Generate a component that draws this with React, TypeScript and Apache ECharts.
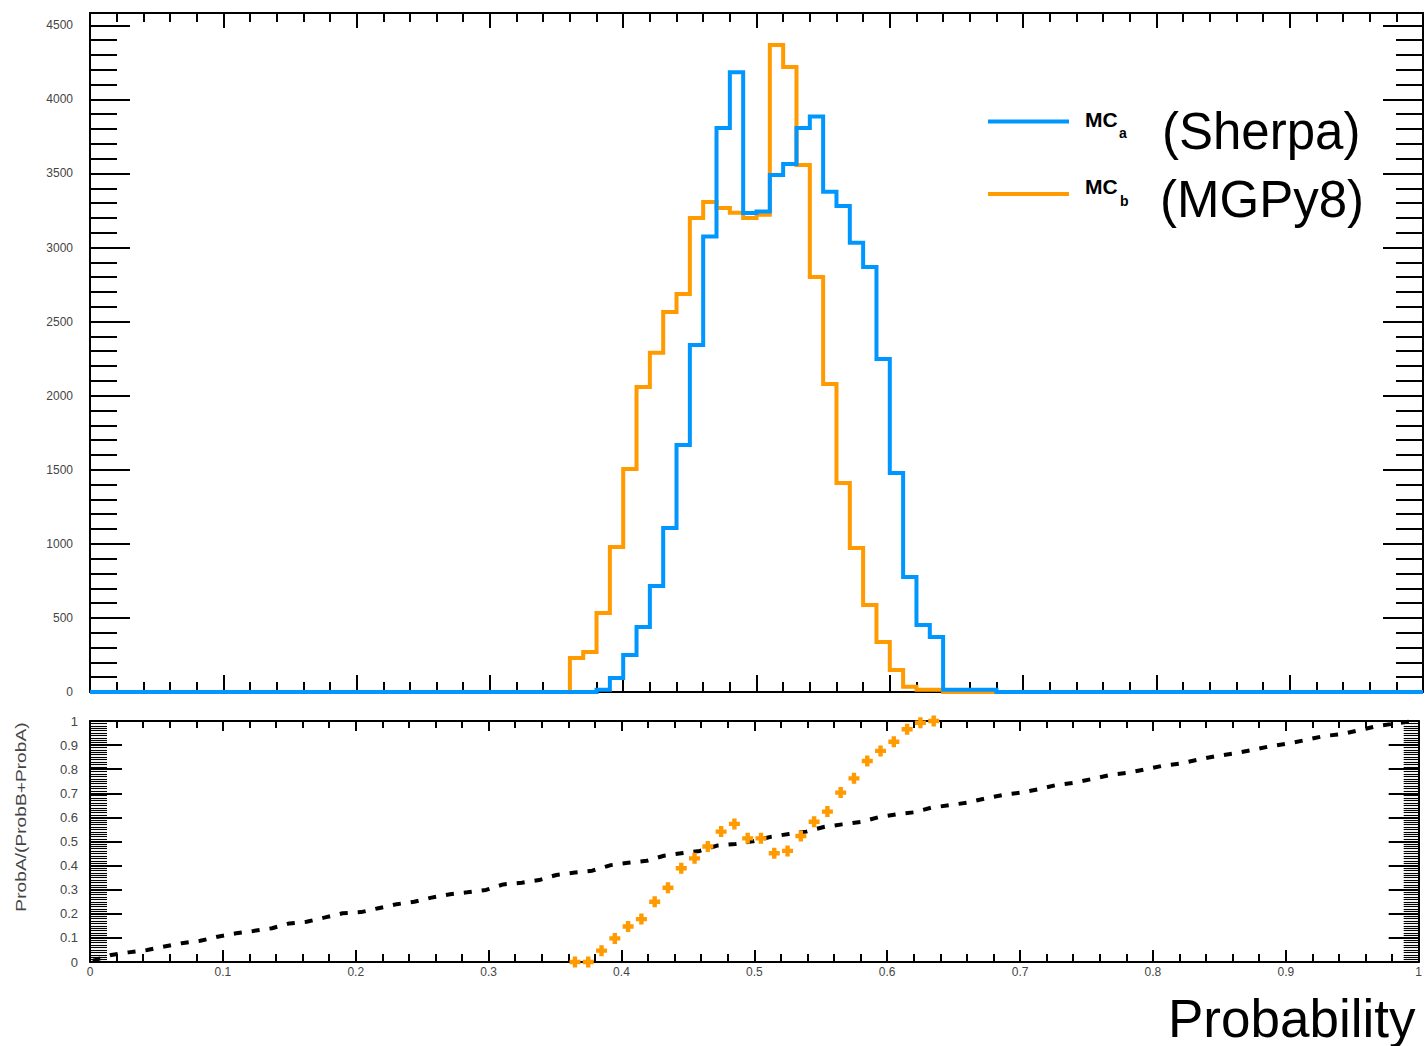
import React, { useEffect, useRef } from "react";
import * as echarts from "echarts";

// ---------------- data ----------------
// histogram: 100 bins of width 0.01 on [0, 1]
const histLow = 0;
const histBinWidth = 0.01;

// MC_a (Sherpa) counts per bin
const mcaCounts = [
  0, 0, 0, 0, 0, 0, 0, 0, 0, 0,
  0, 0, 0, 0, 0, 0, 0, 0, 0, 0,
  0, 0, 0, 0, 0, 0, 0, 0, 0, 0,
  0, 0, 0, 0, 0, 0, 0, 0, 15, 94,
  249, 439, 716, 1107, 1667, 2342, 3074, 3807, 4183, 3233,
  3243, 3490, 3563, 3807, 3885, 3376, 3281, 3033, 2868, 2248,
  1479, 776, 452, 371, 15, 15, 15, 15, 0, 0,
  0, 0, 0, 0, 0, 0, 0, 0, 0, 0,
  0, 0, 0, 0, 0, 0, 0, 0, 0, 0,
  0, 0, 0, 0, 0, 0, 0, 0, 0, 0,
];

// MC_b (MGPy8) counts per bin
const mcbCounts = [
  0, 0, 0, 0, 0, 0, 0, 0, 0, 0,
  0, 0, 0, 0, 0, 0, 0, 0, 0, 0,
  0, 0, 0, 0, 0, 0, 0, 0, 0, 0,
  0, 0, 0, 0, 0, 0, 229, 270, 534, 979,
  1506, 2059, 2289, 2565, 2687, 3199, 3307, 3267, 3234, 3199,
  3221, 4367, 4219, 3557, 2801, 2079, 1411, 972, 587, 337,
  149, 36, 15, 15, 0, 0, 0, 0, 0, 0,
  0, 0, 0, 0, 0, 0, 0, 0, 0, 0,
  0, 0, 0, 0, 0, 0, 0, 0, 0, 0,
  0, 0, 0, 0, 0, 0, 0, 0, 0, 0,
];

// ratio panel: orange points (bin centres) and values
const ratioX = [
  0.365, 0.375, 0.385, 0.395, 0.405, 0.415, 0.425, 0.435, 0.445, 0.455,
  0.465, 0.475, 0.485, 0.495, 0.505, 0.515, 0.525, 0.535, 0.545, 0.555,
  0.565, 0.575, 0.585, 0.595, 0.605, 0.615, 0.625, 0.635,
];
const ratioY = [
  0, 0, 0.047, 0.098, 0.147, 0.178, 0.25, 0.308, 0.389, 0.43,
  0.479, 0.541, 0.573, 0.513, 0.513, 0.451, 0.461, 0.523, 0.582, 0.624,
  0.703, 0.762, 0.834, 0.876, 0.914, 0.966, 0.993, 1.0,
];

// ratio panel: black reference curve
const refX = [
  0.002, 0.016, 0.029, 0.043, 0.056, 0.069, 0.083, 0.096, 0.11, 0.123,
  0.137, 0.15, 0.163, 0.177, 0.19, 0.204, 0.217, 0.231, 0.244, 0.257,
  0.271, 0.284, 0.298, 0.311, 0.325, 0.338, 0.351, 0.365, 0.378, 0.392,
  0.405, 0.419, 0.432, 0.445, 0.459, 0.472, 0.486, 0.499, 0.513, 0.526,
  0.539, 0.553, 0.566, 0.58, 0.593, 0.607, 0.62, 0.633, 0.647, 0.66,
  0.674, 0.687, 0.701, 0.714, 0.727, 0.741, 0.754, 0.768, 0.781, 0.795,
  0.808, 0.821, 0.835, 0.848, 0.862, 0.875, 0.889, 0.902, 0.915, 0.929,
  0.942, 0.956, 0.969, 0.983, 0.996,
];
const refY = [
  0.005, 0.029, 0.04, 0.05, 0.064, 0.078, 0.088, 0.105, 0.119, 0.129,
  0.14, 0.16, 0.167, 0.185, 0.202, 0.207, 0.223, 0.24, 0.25, 0.267,
  0.281, 0.289, 0.299, 0.322, 0.329, 0.34, 0.361, 0.371, 0.379, 0.402,
  0.412, 0.42, 0.441, 0.451, 0.461, 0.483, 0.49, 0.501, 0.52, 0.531,
  0.541, 0.561, 0.571, 0.581, 0.6, 0.613, 0.621, 0.64, 0.651, 0.661,
  0.679, 0.693, 0.703, 0.717, 0.734, 0.744, 0.759, 0.776, 0.785, 0.8,
  0.815, 0.824, 0.841, 0.855, 0.866, 0.88, 0.896, 0.907, 0.921, 0.938,
  0.945, 0.963, 0.979, 0.99, 1.0,
];

// axis ranges / ticks
const xMin = 0;
const xMax = 1;
const xInterval = 0.1;
const topYMax = 4583;
const topYTickMax = 4500;
const topYInterval = 500;
const ratioYMin = 0;
const ratioYMax = 1;
const ratioYInterval = 0.1;

// labels
const seriesNameA = "(Sherpa)";
const seriesNameB = "(MGPy8)";
const xTitle = "Probability";
const ratioTitle = "ProbA/(ProbB+ProbA)";

// ---------------- styles ----------------
const BLUE = "#0096ff";
const ORANGE = "#ff9a00";
const FONT = '"Liberation Sans", Arial, Helvetica, sans-serif';
const LABEL_COLOR = "#444";

const PLOT_LEFT = 90;
const PLOT_WIDTH = 1333;
const TOP_TOP = 13;
const TOP_HEIGHT = 679;
const RATIO_TOP = 721;
const RATIO_HEIGHT = 241;

function histData(counts: number[]) {
  const pts: number[][] = counts.map((c, i) => [histLow + i * histBinWidth, c]);
  pts.push([histLow + counts.length * histBinWidth, counts[counts.length - 1]]);
  return pts;
}

function axis(base: any) {
  const tick = { color: "#000", width: 2 };
  return {
    type: "value",
    axisLine: { show: true, onZero: false, lineStyle: { color: "#000", width: 2 } },
    splitLine: { show: false },
    axisLabel: { show: false },
    ...base,
    axisTick: { show: true, inside: true, lineStyle: tick, ...(base.axisTick || {}) },
    minorTick: { show: true, lineStyle: tick, ...(base.minorTick || {}) },
  };
}

const PLUS = "path://M3,0H7V3H10V7H7V10H3V7H0V3H3Z";
const plainNumber = (v: number) => String(v);

export default function App() {
  const ref = useRef<HTMLDivElement>(null);

  useEffect(() => {
    document.body.style.margin = "0";
    const chart = echarts.init(ref.current!, null, { renderer: "svg" });

    const tickGridHeight = (TOP_HEIGHT * topYTickMax) / topYMax;
    const tickGridTop = TOP_TOP + TOP_HEIGHT - tickGridHeight;

    const xCommon = { min: xMin, max: xMax, interval: xInterval };
    const denseMinor = { color: "#000", width: 1.1 };

    const option: any = {
      animation: false,
      backgroundColor: "#fff",
      grid: [
        { left: PLOT_LEFT, top: TOP_TOP, width: PLOT_WIDTH, height: TOP_HEIGHT },
        { left: PLOT_LEFT, top: RATIO_TOP, width: PLOT_WIDTH, height: RATIO_HEIGHT },
        { left: PLOT_LEFT, top: tickGridTop, width: PLOT_WIDTH, height: tickGridHeight },
      ],
      xAxis: [
        axis({ ...xCommon, gridIndex: 0, position: "bottom", axisTick: { length: 17 }, minorTick: { splitNumber: 5, length: 10 } }),
        axis({ ...xCommon, gridIndex: 0, position: "top", axisTick: { length: 15 }, minorTick: { splitNumber: 5, length: 9 } }),
        axis({
          ...xCommon,
          gridIndex: 1,
          position: "bottom",
          axisTick: { length: 12 },
          minorTick: { splitNumber: 5, length: 8 },
          axisLabel: { show: true, fontSize: 12, color: LABEL_COLOR, fontFamily: FONT, margin: 4 },
        }),
        axis({ ...xCommon, gridIndex: 1, position: "top", axisTick: { length: 10 }, minorTick: { splitNumber: 5, length: 7 } }),
        { type: "value", gridIndex: 2, min: xMin, max: xMax, show: false },
      ],
      yAxis: [
        axis({ gridIndex: 0, position: "left", min: 0, max: topYMax, axisTick: { show: false }, minorTick: { show: false } }),
        axis({ gridIndex: 0, position: "right", min: 0, max: topYMax, axisTick: { show: false }, minorTick: { show: false } }),
        axis({
          gridIndex: 1,
          position: "left",
          min: ratioYMin,
          max: ratioYMax,
          interval: ratioYInterval,
          axisTick: { length: 32 },
          minorTick: { splitNumber: 10, length: 17, lineStyle: denseMinor },
          axisLabel: { show: true, fontSize: 13, color: LABEL_COLOR, fontFamily: FONT, margin: 12 },
        }),
        axis({
          gridIndex: 1,
          position: "right",
          min: ratioYMin,
          max: ratioYMax,
          interval: ratioYInterval,
          axisTick: { length: 30 },
          minorTick: { splitNumber: 10, length: 15, lineStyle: denseMinor },
        }),
        axis({
          gridIndex: 2,
          position: "left",
          min: 0,
          max: topYTickMax,
          interval: topYInterval,
          axisLine: { show: false },
          axisTick: { length: 40 },
          minorTick: { splitNumber: 5, length: 27 },
          axisLabel: { show: true, fontSize: 12, color: LABEL_COLOR, fontFamily: FONT, margin: 17, formatter: plainNumber },
        }),
        axis({
          gridIndex: 2,
          position: "right",
          min: 0,
          max: topYTickMax,
          interval: topYInterval,
          axisLine: { show: false },
          axisTick: { length: 40 },
          minorTick: { splitNumber: 5, length: 27 },
        }),
      ],
      series: [
        {
          name: "MCb",
          type: "line",
          xAxisIndex: 0,
          yAxisIndex: 0,
          step: "end",
          showSymbol: false,
          data: histData(mcbCounts),
          lineStyle: { color: ORANGE, width: 4, join: "miter" },
          z: 3,
        },
        {
          name: "MCa",
          type: "line",
          xAxisIndex: 0,
          yAxisIndex: 0,
          step: "end",
          showSymbol: false,
          data: histData(mcaCounts),
          lineStyle: { color: BLUE, width: 4, join: "miter" },
          z: 4,
        },
        {
          name: "reference",
          type: "line",
          xAxisIndex: 2,
          yAxisIndex: 2,
          showSymbol: false,
          data: refX.map((x, i) => [x, refY[i]]),
          lineStyle: { color: "#000", width: 4, type: [8, 10], cap: "butt" },
          z: 3,
        },
        {
          name: "ratio",
          type: "scatter",
          xAxisIndex: 2,
          yAxisIndex: 2,
          symbol: PLUS,
          symbolSize: 11,
          clip: false,
          data: ratioX.map((x, i) => [x, ratioY[i]]),
          itemStyle: { color: ORANGE, opacity: 1 },
          z: 4,
        },
      ],
      graphic: [
        { type: "line", shape: { x1: 988, y1: 121.5, x2: 1069, y2: 121.5 }, style: { stroke: BLUE, lineWidth: 4 } },
        { type: "text", x: 1085, y: 119, style: { text: "MC", font: `bold 21px ${FONT}`, fill: "#000", textVerticalAlign: "middle" } },
        { type: "text", x: 1119, y: 133, style: { text: "a", font: `bold 14px ${FONT}`, fill: "#000", textVerticalAlign: "middle" } },
        { type: "text", x: 1162, y: 131, style: { text: seriesNameA, font: `51px ${FONT}`, fill: "#000", textVerticalAlign: "middle" } },
        { type: "line", shape: { x1: 988, y1: 194, x2: 1069, y2: 194 }, style: { stroke: ORANGE, lineWidth: 4 } },
        { type: "text", x: 1085, y: 186, style: { text: "MC", font: `bold 21px ${FONT}`, fill: "#000", textVerticalAlign: "middle" } },
        { type: "text", x: 1120, y: 201, style: { text: "b", font: `bold 14px ${FONT}`, fill: "#000", textVerticalAlign: "middle" } },
        { type: "text", x: 1160, y: 199, style: { text: seriesNameB, font: `51px ${FONT}`, fill: "#000", textVerticalAlign: "middle" } },
        { type: "text", x: 1168, y: 1018, style: { text: xTitle, font: `53px ${FONT}`, fill: "#000", textVerticalAlign: "middle" } },
        {
          type: "text",
          x: 21,
          y: 817,
          rotation: Math.PI / 2,
          scaleX: 1.28,
          style: { text: ratioTitle, font: `15px ${FONT}`, fill: LABEL_COLOR, textAlign: "center", textVerticalAlign: "middle" },
        },
      ],
    };

    chart.setOption(option);
    return () => chart.dispose();
  }, []);

  return <div ref={ref} style={{ position: "fixed", left: 0, top: 0, width: 1425, height: 1046 }} />;
}
